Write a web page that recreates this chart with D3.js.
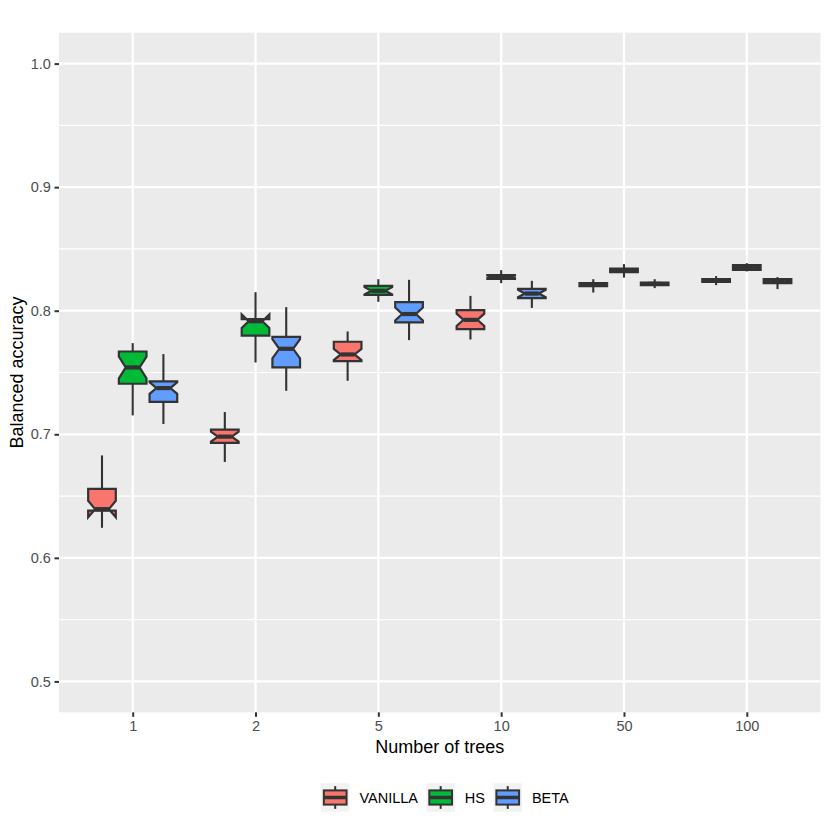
<!DOCTYPE html>
<meta charset="utf-8">
<head>
<style>
  body { margin: 0; background: #ffffff; }
  text { font-family: "Liberation Sans", Arial, sans-serif; }
</style>
</head>

<script src="https://d3js.org/d3.v7.min.js"></script>

<body>
  <div id="my_dataviz"></div>
</body>

<script>

    // categories and groups
    const trees = ["1", "2", "5", "10", "50", "100"];
    const methods = ["VANILLA", "HS", "BETA"];
    const yTicks = [0.5, 0.6, 0.7, 0.8, 0.9, 1.0];

    // one row per number of trees:
    // [lower whisker, Q1, median, Q3, upper whisker, notch low, notch high]
    const vanillaBoxes = [
      [0.6243, 0.6382, 0.6394, 0.6558, 0.6829, 0.6328, 0.6462],
      [0.6776, 0.6930, 0.6981, 0.7037, 0.7180, 0.6941, 0.7021],
      [0.7433, 0.7592, 0.7646, 0.7749, 0.7832, 0.7601, 0.7691],
      [0.7767, 0.7851, 0.7926, 0.8005, 0.8120, 0.7876, 0.7976],
      [0.8147, 0.8199, 0.8209, 0.8223, 0.8255, 0.8201, 0.8217],
      [0.8207, 0.8234, 0.8244, 0.8256, 0.8280, 0.8236, 0.8252]
    ];
    const hsBoxes = [
      [0.7153, 0.7409, 0.7541, 0.7670, 0.7738, 0.7453, 0.7629],
      [0.7581, 0.7799, 0.7915, 0.7932, 0.8150, 0.7860, 0.7970],
      [0.8072, 0.8128, 0.8161, 0.8201, 0.8255, 0.8131, 0.8191],
      [0.8223, 0.8258, 0.8274, 0.8288, 0.8328, 0.8264, 0.8284],
      [0.8268, 0.8312, 0.8327, 0.8341, 0.8377, 0.8320, 0.8334],
      [0.8318, 0.8331, 0.8350, 0.8369, 0.8385, 0.8343, 0.8357]
    ];
    const betaBoxes = [
      [0.7083, 0.7263, 0.7374, 0.7428, 0.7649, 0.7327, 0.7421],
      [0.7352, 0.7541, 0.7692, 0.7789, 0.8029, 0.7615, 0.7769],
      [0.7762, 0.7905, 0.7973, 0.8070, 0.8250, 0.7921, 0.8025],
      [0.8023, 0.8102, 0.8139, 0.8177, 0.8242, 0.8109, 0.8169],
      [0.8183, 0.8207, 0.8217, 0.8228, 0.8255, 0.8210, 0.8224],
      [0.8175, 0.8223, 0.8239, 0.8255, 0.8272, 0.8233, 0.8245]
    ];

    const fills = ["#F8766D", "#00BA38", "#619CFF"];
    const outline = "#333333";

    // panel geometry (ggplot grey theme look)
    const panel = {left: 59, right: 820.5, top: 32.7, bottom: 712.3};

    const svg = d3.select("#my_dataviz")
      .append("svg")
        .attr("width", 830)
        .attr("height", 830);

    const x = d3.scalePoint()
      .domain(trees)
      .range([panel.left, panel.right])
      .padding(0.6);
    const step = x.step();

    // dodge inside each category
    const xSub = d3.scaleBand()
      .domain(methods)
      .range([-0.375 * step, 0.375 * step]);
    const boxW = xSub.bandwidth() * 0.9;

    const y = d3.scaleLinear()
      .domain([0.475, 1.025])
      .range([panel.bottom, panel.top]);

    const colour = d3.scaleOrdinal().domain(methods).range(fills);

    // panel background
    svg.append("rect")
      .attr("x", panel.left).attr("y", panel.top)
      .attr("width", panel.right - panel.left)
      .attr("height", panel.bottom - panel.top)
      .attr("fill", "#EBEBEB");

    // grid lines
    const minorTicks = yTicks.slice(1).map((t, i) => (t + yTicks[i]) / 2);
    const grid = svg.append("g");
    grid.selectAll(".minor").data(minorTicks).enter().append("line")
      .attr("x1", panel.left).attr("x2", panel.right)
      .attr("y1", d => y(d)).attr("y2", d => y(d))
      .attr("stroke", "#ffffff").attr("stroke-width", 1.15);
    grid.selectAll(".major").data(yTicks).enter().append("line")
      .attr("x1", panel.left).attr("x2", panel.right)
      .attr("y1", d => y(d)).attr("y2", d => y(d))
      .attr("stroke", "#ffffff").attr("stroke-width", 2.3);
    grid.selectAll(".vmajor").data(trees).enter().append("line")
      .attr("x1", d => x(d)).attr("x2", d => x(d))
      .attr("y1", panel.top).attr("y2", panel.bottom)
      .attr("stroke", "#ffffff").attr("stroke-width", 2.3);

    // flatten the box stats so every box gets its own record
    const allBoxes = [vanillaBoxes, hsBoxes, betaBoxes];
    const boxes = [];
    methods.forEach(function(m, j) {
      trees.forEach(function(t, i) {
        const r = allBoxes[j][i];
        boxes.push({method: m, tree: t, lo: r[0], q1: r[1], med: r[2], q3: r[3], hi: r[4], nlo: r[5], nhi: r[6]});
      });
    });

    const boxG = svg.append("g").selectAll("g")
      .data(boxes)
      .enter()
      .append("g");

    // whiskers
    boxG.append("line")
      .attr("x1", d => x(d.tree) + xSub(d.method) + xSub.bandwidth() / 2)
      .attr("x2", d => x(d.tree) + xSub(d.method) + xSub.bandwidth() / 2)
      .attr("y1", d => y(d.hi)).attr("y2", d => y(d.q3))
      .attr("stroke", outline).attr("stroke-width", 2.1);
    boxG.append("line")
      .attr("x1", d => x(d.tree) + xSub(d.method) + xSub.bandwidth() / 2)
      .attr("x2", d => x(d.tree) + xSub(d.method) + xSub.bandwidth() / 2)
      .attr("y1", d => y(d.q1)).attr("y2", d => y(d.lo))
      .attr("stroke", outline).attr("stroke-width", 2.1);

    // notched box
    boxG.append("path")
      .attr("d", function(d) {
        const cx = x(d.tree) + xSub(d.method) + xSub.bandwidth() / 2;
        const x0 = cx - boxW / 2, x1 = cx + boxW / 2, ind = boxW * 0.25;
        const pts = [
          [x0, y(d.q3)], [x0, y(d.nhi)], [x0 + ind, y(d.med)], [x0, y(d.nlo)], [x0, y(d.q1)],
          [x1, y(d.q1)], [x1, y(d.nlo)], [x1 - ind, y(d.med)], [x1, y(d.nhi)], [x1, y(d.q3)]
        ];
        return "M" + pts.map(p => p.join(",")).join("L") + "Z";
      })
      .attr("fill", d => colour(d.method))
      .attr("stroke", outline)
      .attr("stroke-width", 2.2)
      .attr("stroke-linejoin", "miter");

    // median
    boxG.append("line")
      .attr("x1", d => x(d.tree) + xSub(d.method) + xSub.bandwidth() / 2 - boxW / 4)
      .attr("x2", d => x(d.tree) + xSub(d.method) + xSub.bandwidth() / 2 + boxW / 4)
      .attr("y1", d => y(d.med)).attr("y2", d => y(d.med))
      .attr("stroke", outline).attr("stroke-width", 4.2);

    // axes
    const xAxis = svg.append("g")
      .attr("transform", "translate(0," + panel.bottom + ")")
      .call(d3.axisBottom(x).tickSize(4.5).tickPadding(3.6));
    const yAxis = svg.append("g")
      .attr("transform", "translate(" + panel.left + ",0)")
      .call(d3.axisLeft(y).tickValues(yTicks).tickFormat(d3.format(".1f")).tickSize(4.5).tickPadding(3.6));

    [xAxis, yAxis].forEach(function(a) {
      a.select(".domain").remove();
      a.selectAll(".tick line").attr("stroke", outline).attr("stroke-width", 2);
      a.selectAll(".tick text")
        .attr("fill", "#4D4D4D")
        .style("font-size", "14.5px")
        .style("font-family", "'Liberation Sans', Arial, sans-serif");
    });

    svg.append("text")
      .attr("x", (panel.left + panel.right) / 2)
      .attr("y", 752.5)
      .style("text-anchor", "middle")
      .style("font-size", "18px")
      .text("Number of trees");

    svg.append("text")
      .attr("transform", "translate(23," + ((panel.top + panel.bottom) / 2) + ") rotate(-90)")
      .style("text-anchor", "middle")
      .style("font-size", "18px")
      .text("Balanced accuracy");

    // legend
    const key = 28.4, keyTop = 783.3;
    let lx = 321;
    methods.forEach(function(m) {
      const g = svg.append("g").attr("transform", "translate(" + lx + "," + keyTop + ")");
      g.append("rect").attr("width", key).attr("height", key).attr("fill", "#F2F2F2");
      g.append("line").attr("x1", key / 2).attr("x2", key / 2).attr("y1", key * 0.1).attr("y2", key * 0.9)
        .attr("stroke", outline).attr("stroke-width", 2);
      g.append("rect").attr("x", key * 0.1).attr("y", key * 0.25)
        .attr("width", key * 0.8).attr("height", key * 0.5)
        .attr("fill", colour(m)).attr("stroke", outline).attr("stroke-width", 2);
      g.append("line").attr("x1", key * 0.1).attr("x2", key * 0.9).attr("y1", key / 2).attr("y2", key / 2)
        .attr("stroke", outline).attr("stroke-width", 3.5);
      const label = g.append("text")
        .attr("x", key + 10)
        .attr("y", key / 2)
        .attr("dy", "0.35em")
        .style("font-size", "14.5px")
        .text(m);
      lx += key + 10 + label.node().getComputedTextLength() + 8.5;
    });

</script>
